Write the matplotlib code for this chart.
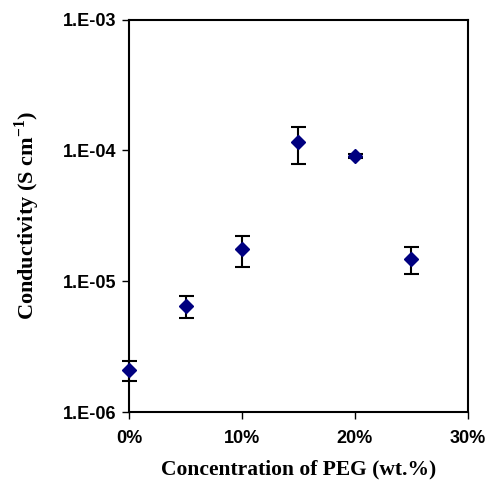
import matplotlib
matplotlib.use('Agg')
from matplotlib import pyplot as plt
from matplotlib.ticker import FixedLocator, FuncFormatter, NullLocator

# Data.
peg_conc = [0, 5, 10, 15, 20, 25]
conductivity = [2.1e-6, 6.45e-6, 1.75e-5, 1.15e-4, 9.0e-5, 1.47e-5]
err_upper = [2.47e-6, 7.66e-6, 2.22e-5, 1.52e-4, 9.3e-5, 1.83e-5]
err_lower = [1.73e-6, 5.23e-6, 1.29e-5, 7.8e-5, 8.7e-5, 1.14e-5]

x_ticks = [0, 10, 20, 30]
x_tick_labels = ['0%', '10%', '20%', '30%']
y_ticks = [1e-6, 1e-5, 1e-4, 1e-3]
y_tick_labels = ['1.E-06', '1.E-05', '1.E-04', '1.E-03']

yerr = [[c - lo for c, lo in zip(conductivity, err_lower)],
        [hi - c for c, hi in zip(conductivity, err_upper)]]

fig = plt.figure(figsize=(4.92, 4.82), dpi=100)
ax = fig.add_axes([0.2622, 0.1452, 0.6890, 0.8143])

eb = ax.errorbar(peg_conc, conductivity, yerr=yerr, fmt='none', ecolor='black',
                 elinewidth=1.5, capsize=5.4, capthick=1.5, zorder=2)
for art in eb.lines[1] + eb.lines[2]:
    art.set_clip_on(False)
ax.plot(peg_conc, conductivity, linestyle='none', marker='D', markersize=7.5,
        color='#000080', markeredgecolor='#000080', zorder=3, clip_on=False)

# Format plot.
ax.set_yscale('log')
ax.set_xlim(0, 30)
ax.set_ylim(1e-6, 1e-3)
ax.xaxis.set_major_locator(FixedLocator(x_ticks))
ax.xaxis.set_major_formatter(FuncFormatter(lambda v, p: x_tick_labels[x_ticks.index(round(v))]))
ax.yaxis.set_major_locator(FixedLocator(y_ticks))
ax.yaxis.set_major_formatter(FuncFormatter(lambda v, p: y_tick_labels[p]))
ax.yaxis.set_minor_locator(NullLocator())

for s in ax.spines.values():
    s.set_linewidth(1.5)
ax.tick_params(axis='both', which='major', direction='out', length=5, width=1)
ax.tick_params(axis='x', pad=8)
ax.tick_params(axis='y', pad=4)
for lab in ax.get_xticklabels() + ax.get_yticklabels():
    lab.set_fontfamily('Liberation Sans')
    lab.set_fontweight('bold')
    lab.set_fontsize(13)

ax.set_xlabel('Concentration of PEG (wt.%)', family='Liberation Serif',
              fontweight='bold', fontsize=15.5, labelpad=9)
ax.set_ylabel('Conductivity (S cm$^{\\mathregular{-1}}$)', family='Liberation Serif',
              fontweight='bold', fontsize=16, labelpad=15)

fig.savefig('out.png', dpi=100)
